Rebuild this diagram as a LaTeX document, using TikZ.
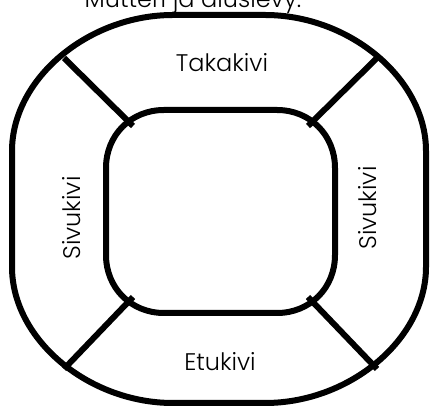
\documentclass[tikz,border=0pt]{standalone}
\usepackage{fontspec}
\setmainfont{Poppins Light}
\usepackage{tikz}
\usetikzlibrary{calc}
\tikzset{
  wall/.style  = {line width=6pt, line join=round},
  spoke/.style = {line width=6pt},
  stone/.style = {font=\fontsize{24}{28}\selectfont, inner sep=0pt},
}

\begin{document}
\begin{tikzpicture}[x=1pt,y=1pt]
\useasboundingbox (0,0) rectangle (431,409);
% ---------- heading (cut off at the top) ----------
\node[stone,anchor=base] (head) at (193,401) {Mutteri ja aluslevy:};
% ---------- outer ring ----------
\draw[wall] (173,394) -- (265,394)
  .. controls (350,394) and (426,330) .. (426,258) -- (426,142)
  .. controls (426,70) and (350,6) .. (265,6) -- (173,6)
  .. controls (88,6) and (12,70) .. (12,142) -- (12,258)
  .. controls (12,330) and (88,394) .. (173,394) -- cycle;
% ---------- inner hole ----------
\draw[wall] (164,299) -- (277,299)
  .. controls (310,299) and (335,274) .. (335,241) -- (335,154)
  .. controls (335,121) and (310,96) .. (277,96) -- (164,96)
  .. controls (131,96) and (106,121) .. (106,154) -- (106,241)
  .. controls (106,274) and (131,299) .. (164,299) -- cycle;
% ---------- joints ----------
\coordinate (tlo) at (64,351);  \coordinate (tli) at (133,283);
\coordinate (tro) at (377,351); \coordinate (tri) at (308,283);
\coordinate (blo) at (64,40);   \coordinate (bli) at (133,112);
\coordinate (bro) at (377,40);  \coordinate (bri) at (308,112);
\draw[spoke] (tlo) -- (tli);
\draw[spoke] (tro) -- (tri);
\draw[spoke] (blo) -- (bli);
\draw[spoke] (bro) -- (bri);
% ---------- stone names ----------
\node[stone] (back)  at (222,346) {Takakivi};
\node[stone] (front) at (220,47)  {Etukivi};
\node[stone,rotate=90] (left)  at (72,191)  {Sivukivi};
\node[stone,rotate=90] (right) at (368,201) {Sivukivi};
\end{tikzpicture}
\end{document}
